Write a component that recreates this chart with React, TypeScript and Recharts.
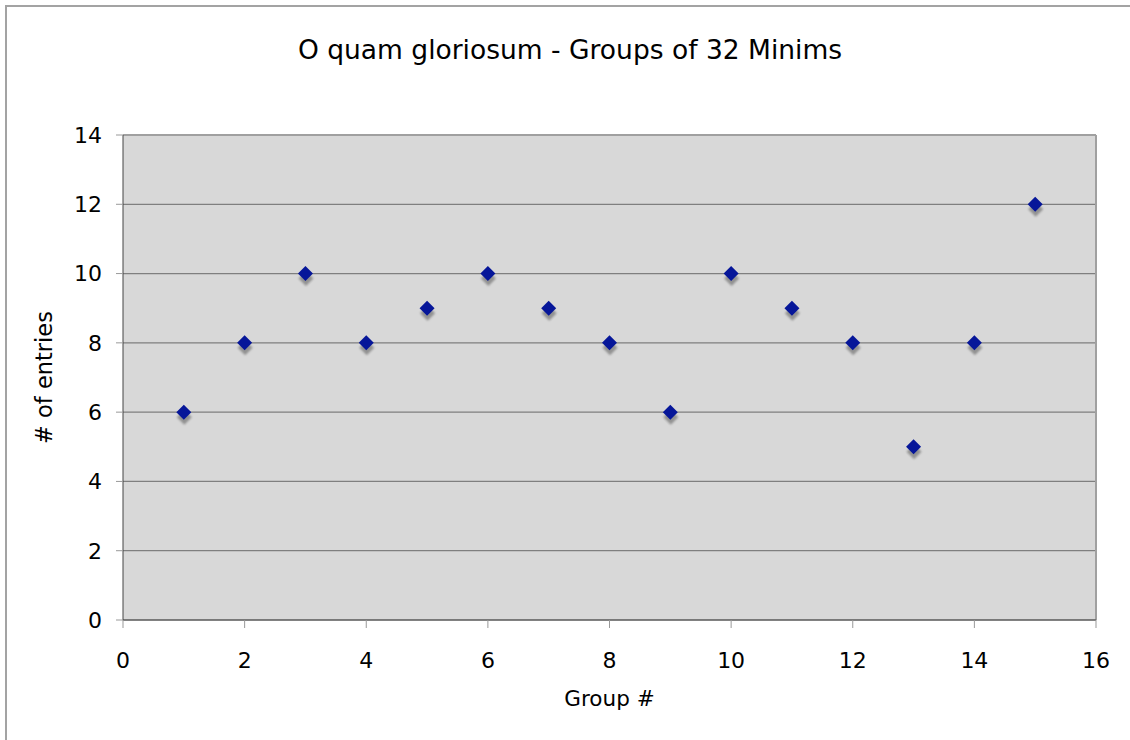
import React from "react";
import { CartesianGrid, Label, ReferenceLine, Scatter, ScatterChart, XAxis, YAxis } from "recharts";

const groups = [1, 2, 3, 4, 5, 6, 7, 8, 9, 10, 11, 12, 13, 14, 15];
const entries = [6, 8, 10, 8, 9, 10, 9, 8, 6, 10, 9, 8, 5, 8, 12];
const xTicks = [0, 2, 4, 6, 8, 10, 12, 14, 16];
const yTicks = [0, 2, 4, 6, 8, 10, 12, 14];

const data = groups.map((g, i) => ({ x: g, y: entries[i] }));

const FONT = "'DejaVu Sans', Verdana, sans-serif";

/** Excel-ish diamond marker with a soft drop shadow below it. */
function Diamond(props: any) {
  const { cx, cy } = props;
  if (cx == null || cy == null) return null;
  const r = 7.5;
  const pts = (dx: number, dy: number) =>
    `${cx + dx},${cy + dy - r} ${cx + dx + r},${cy + dy} ${cx + dx},${cy + dy + r} ${cx + dx - r},${cy + dy}`;
  return (
    <g>
      <polygon points={pts(0.5, 5)} fill="#808080" opacity={0.8} filter="url(#shadowBlur)" />
      <polygon points={pts(0, 0)} fill="#061699" />
    </g>
  );
}

export default function App() {
  return (
    <div style={{ position: "relative", width: 1130, height: 740, background: "#fff", fontFamily: FONT, overflow: "hidden" }}>
      <style>{`body{margin:0}`}</style>
      <div style={{ position: "absolute", left: 5, top: 5, width: 1200, height: 800, borderTop: "2px solid #a3a3a3", borderLeft: "2px solid #a3a3a3" }} />
      <svg width={1130} height={80} style={{ position: "absolute", left: 0, top: 0 }}>
        <text x={570} y={59} textAnchor="middle" fontSize={26.5} fontFamily={FONT} fill="#000">
          O quam gloriosum - Groups of 32 Minims
        </text>
      </svg>
      <div style={{ position: "absolute", left: 0, top: 0 }}>
        <ScatterChart width={1130} height={740} margin={{ top: 135, right: 34, bottom: 30, left: 5 }}>
          <defs>
            <filter id="shadowBlur" x="-50%" y="-50%" width="200%" height="200%">
              <feGaussianBlur stdDeviation={1.2} />
            </filter>
          </defs>
          <CartesianGrid vertical={false} fill="#d8d8d8" fillOpacity={1} stroke="#7f7f7f" strokeWidth={1.2} />
          <XAxis
            type="number"
            dataKey="x"
            domain={[0, 16]}
            ticks={xTicks}
            height={90}
            tickSize={8}
            tickMargin={24}
            tick={{ fontSize: 22, fill: "#000", fontFamily: FONT }}
            stroke="#444"
            tickLine={{ stroke: "#999" }}
          >
            <Label value="Group #" position="insideBottom" offset={4} style={{ fontSize: 21.5, fill: "#000", fontFamily: FONT }} />
          </XAxis>
          <YAxis
            type="number"
            dataKey="y"
            domain={[0, 14]}
            ticks={yTicks}
            width={118}
            tickSize={7}
            tickMargin={14}
            tick={{ fontSize: 22, fill: "#000", fontFamily: FONT }}
            stroke="#444"
            tickLine={{ stroke: "#999" }}
          >
            <Label value="# of entries" angle={-90} position="insideLeft" offset={39} style={{ fontSize: 22.5, fill: "#000", fontFamily: FONT, textAnchor: "middle" }} />
          </YAxis>
          <ReferenceLine x={16} stroke="#a0a0a0" strokeWidth={2} />
          <ReferenceLine y={14} stroke="#a0a0a0" strokeWidth={2} />
          <Scatter data={data} shape={<Diamond />} isAnimationActive={false} />
        </ScatterChart>
      </div>
    </div>
  );
}
